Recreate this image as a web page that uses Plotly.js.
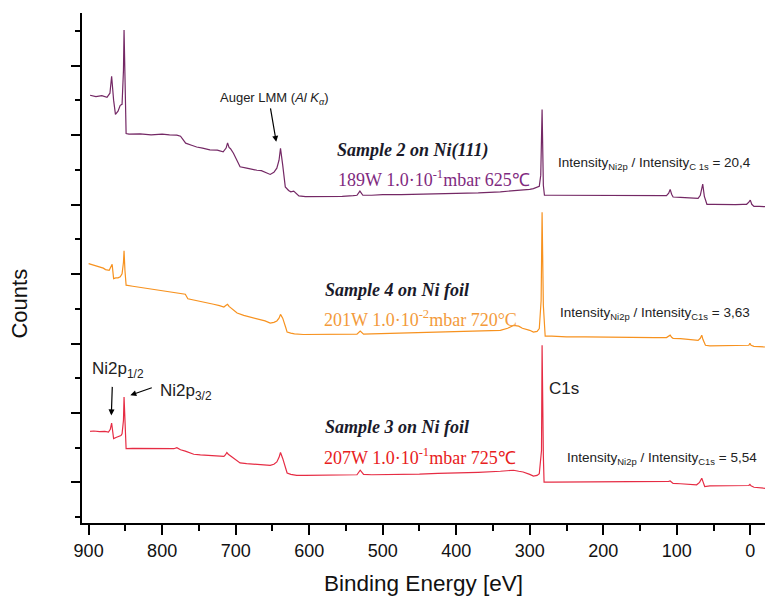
<!DOCTYPE html>
<html>
<head>
<meta charset="utf-8">
<script src="https://cdn.plot.ly/plotly-3.0.1.min.js"></script>
<style>html,body{margin:0;padding:0;background:#fff;}#chart{width:765px;height:601px;}</style>
</head>
<body>
<div id="chart"></div>
<script>
// Binding energy (eV) and counts (arbitrary units, offset per spectrum)
const evSample2 = [898, 890, 882, 875, 871, 868.7, 866, 863.5, 860, 857, 854.5, 852.6, 851.8, 850.6, 849, 845, 830, 815, 800, 790, 780, 775, 770, 768, 760, 753, 745, 735, 725, 717, 713, 711, 709, 707, 703, 698, 694, 685, 678, 671, 665, 660, 653, 648, 644, 641, 639, 636, 632.5, 628, 625, 621, 617, 614, 605, 595, 585, 570, 555, 540, 535, 531, 527, 515, 500, 475, 450, 425, 400, 370, 340, 320, 310, 300, 295, 290, 287, 285, 283.2, 281.5, 280, 270, 250, 225, 200, 175, 150, 130, 114, 111, 109, 107, 105, 95, 85, 75, 71, 68, 66.5, 64.7, 62.5, 61, 59, 50, 40, 30, 20, 10, 5, 2, 0, -2, -5, -12, -20];
const cSample2 = [11.15, 11.11, 11.14, 11.09, 11.21, 11.70, 11.01, 10.60, 10.69, 10.86, 10.89, 11.87, 13.03, 11.30, 10.05, 10.03, 10.04, 10.01, 10.03, 10.01, 10.00, 9.97, 9.83, 9.77, 9.71, 9.66, 9.63, 9.58, 9.57, 9.52, 9.63, 9.78, 9.65, 9.61, 9.48, 9.25, 9.09, 9.05, 9.01, 8.99, 8.98, 8.93, 8.87, 8.93, 9.05, 9.28, 9.62, 9.14, 8.51, 8.41, 8.37, 8.39, 8.30, 8.25, 8.23, 8.23, 8.22, 8.24, 8.24, 8.26, 8.27, 8.39, 8.27, 8.27, 8.29, 8.29, 8.30, 8.31, 8.33, 8.34, 8.37, 8.40, 8.43, 8.44, 8.46, 8.49, 8.53, 8.85, 10.74, 8.56, 8.27, 8.27, 8.27, 8.27, 8.26, 8.27, 8.26, 8.26, 8.26, 8.33, 8.44, 8.30, 8.22, 8.21, 8.20, 8.19, 8.18, 8.27, 8.41, 8.59, 8.24, 8.10, 8.01, 8.01, 8.00, 8.01, 8.00, 8.01, 8.01, 8.07, 8.13, 8.01, 7.95, 7.95, 7.94];

const evSample4 = [900, 895, 890, 885, 880, 877, 872, 868, 866, 863, 860, 857, 854.5, 852.6, 851.8, 850.6, 849, 840, 830, 820, 810, 800, 790, 780, 772, 768.5, 765, 758, 750, 740, 730, 722, 716, 713, 711, 709, 707, 703, 698, 689, 680, 670, 660, 653, 648, 644, 641, 639, 636, 632, 630, 625, 620, 608, 595, 580, 565, 550, 535, 530.6, 526, 515, 500, 475, 450, 425, 400, 370, 340, 330, 322, 315, 310, 300, 295, 290, 287, 284.5, 283.2, 281.5, 279, 270, 250, 225, 200, 175, 150, 130, 114, 111, 109, 107, 105, 95, 85, 75, 71, 68, 66, 64.5, 62.5, 61, 55, 40, 25, 10, 2, 0.5, -1, -5, -12, -20];
const cSample4 = [6.30, 6.27, 6.24, 6.20, 6.17, 6.13, 6.11, 6.28, 5.87, 5.89, 5.89, 5.92, 6.01, 6.34, 6.67, 6.11, 5.68, 5.65, 5.62, 5.59, 5.56, 5.53, 5.50, 5.46, 5.45, 5.42, 5.29, 5.26, 5.23, 5.19, 5.13, 5.09, 5.05, 5.10, 5.13, 5.07, 5.04, 4.96, 4.88, 4.81, 4.76, 4.71, 4.65, 4.59, 4.61, 4.65, 4.73, 4.84, 4.73, 4.47, 4.33, 4.30, 4.28, 4.26, 4.26, 4.27, 4.27, 4.28, 4.27, 4.36, 4.27, 4.28, 4.29, 4.30, 4.32, 4.34, 4.35, 4.37, 4.38, 4.44, 4.52, 4.50, 4.44, 4.38, 4.33, 4.35, 4.43, 5.24, 7.78, 5.10, 4.21, 4.21, 4.19, 4.19, 4.18, 4.18, 4.18, 4.17, 4.17, 4.21, 4.24, 4.18, 4.15, 4.14, 4.12, 4.10, 4.09, 4.15, 4.24, 4.12, 3.98, 3.95, 3.93, 3.93, 3.93, 3.93, 3.95, 4.01, 3.95, 3.92, 3.91, 3.90];

const evSample3 = [898, 893, 885, 878, 873, 870.5, 868.7, 867, 866, 862, 858, 856, 854.5, 852.6, 851.8, 850.6, 849, 840, 830, 815, 800, 790, 784, 780, 775, 768.5, 763, 757, 748, 740, 730, 722, 716, 714, 712, 710, 708, 703, 698, 694, 685, 678, 670, 660, 653, 648, 644, 641, 639, 636, 632, 630, 625, 617, 605, 590, 575, 560, 545, 535, 530.6, 526, 515, 503, 475, 450, 425, 400, 370, 340, 330, 322, 315, 309, 300, 295, 290, 287, 284, 283.2, 281.5, 280.5, 270, 250, 225, 200, 175, 150, 130, 114, 111, 109, 107, 105, 95, 85, 75, 73, 69, 66, 64, 62, 55, 40, 25, 10, 2, 0.5, -1, -5, -12, -20];
const cSample3 = [1.47, 1.48, 1.46, 1.47, 1.45, 1.53, 1.71, 1.50, 1.26, 1.30, 1.33, 1.35, 1.40, 1.79, 2.46, 1.64, 0.97, 0.98, 0.98, 0.97, 0.98, 0.97, 0.97, 1.00, 0.94, 0.90, 0.85, 0.81, 0.79, 0.78, 0.77, 0.76, 0.75, 0.79, 0.86, 0.81, 0.78, 0.68, 0.62, 0.56, 0.54, 0.53, 0.52, 0.50, 0.49, 0.52, 0.59, 0.72, 0.86, 0.69, 0.43, 0.27, 0.23, 0.20, 0.20, 0.20, 0.21, 0.21, 0.22, 0.22, 0.35, 0.23, 0.22, 0.22, 0.23, 0.24, 0.26, 0.27, 0.29, 0.32, 0.33, 0.35, 0.32, 0.30, 0.23, 0.18, 0.20, 0.25, 0.92, 3.95, 0.78, 0.01, 0.01, 0.01, 0.01, 0.01, 0.01, 0.01, 0.01, 0.01, 0.03, 0.04, -0.01, -0.03, -0.04, -0.06, -0.07, -0.07, 0.00, 0.12, 0.00, -0.12, -0.10, -0.10, -0.10, -0.10, -0.09, -0.06, -0.10, -0.14, -0.16, -0.17];

const seriesNames = ['Sample 2 on Ni(111)', 'Sample 4 on Ni foil', 'Sample 3 on Ni foil'];
const conditions = ['189W 1.0·10<sup>-1</sup>mbar 625℃', '201W 1.0·10<sup>-2</sup>mbar 720°C', '207W 1.0·10<sup>-1</sup>mbar 725℃'];
const ratioLabels = ['Intensity<sub>Ni2p</sub> / Intensity<sub>C 1s</sub> = 20,4', 'Intensity<sub>Ni2p</sub> / Intensity<sub>C1s</sub> = 3,63', 'Intensity<sub>Ni2p</sub> / Intensity<sub>C1s</sub> = 5,54'];
const xTickVals = [900, 800, 700, 600, 500, 400, 300, 200, 100, 0];

const lineColors = ['#742865', '#f7921f', '#e62c44'];
const textColors = ['#7f2a80', '#f39a3a', '#e82020'];
const SERIF = 'Liberation Serif, Times New Roman, serif';
const SANS = 'Liberation Sans, Arial, sans-serif';

const traces = [
  {x: evSample2, y: cSample2, name: seriesNames[0], type: 'scatter', mode: 'lines', line: {color: lineColors[0], width: 1.2}},
  {x: evSample4, y: cSample4, name: seriesNames[1], type: 'scatter', mode: 'lines', line: {color: lineColors[1], width: 1.2}},
  {x: evSample3, y: cSample3, name: seriesNames[2], type: 'scatter', mode: 'lines', line: {color: lineColors[2], width: 1.2}}
];

function label(x, y, text, size, family, color, xanchor) {
  return {x: x, y: y, xref: 'x', yref: 'y', text: text, showarrow: false,
    xanchor: xanchor || 'left', yanchor: 'middle', font: {size: size, family: family, color: color}};
}
function arrow(x, y, ax, ay) {
  return {x: x, y: y, xref: 'x', yref: 'y', text: '', showarrow: true, ax: ax, ay: ay,
    arrowhead: 2, arrowsize: 1, arrowwidth: 1.2, arrowcolor: '#000'};
}

const annotations = [
  label(647.5, 11.07, 'Auger LMM (<i>Al K<sub>α</sub></i>)', 13, SANS, '#222', 'center'),
  arrow(644.8, 9.81, -6, -35),
  label(564.7, 9.57, '<b><i>' + seriesNames[0] + '</i></b>', 18, SERIF, '#1a1a2a'),
  label(563.3, 8.76, conditions[0], 18, SERIF, textColors[0]),
  label(264.1, 9.19, ratioLabels[0], 13.5, SANS, '#222'),
  label(581.3, 5.53, '<b><i>' + seriesNames[1] + '</i></b>', 18, SERIF, '#1a1a2a'),
  label(582.7, 4.72, conditions[1], 18, SERIF, textColors[1]),
  label(261.4, 4.87, ratioLabels[1], 13.5, SANS, '#222'),
  label(580.9, 1.59, '<b><i>' + seriesNames[2] + '</i></b>', 18, SERIF, '#1a1a2a'),
  label(582.2, 0.75, conditions[2], 18, SERIF, textColors[2]),
  label(251.9, 0.69, ratioLabels[2], 13.5, SANS, '#222'),
  label(897.6, 3.23, 'Ni2p<sub>1/2</sub>', 17, SANS, '#222'),
  arrow(869.1, 1.93, 1, -30),
  label(805.2, 2.59, 'Ni2p<sub>3/2</sub>', 17, SANS, '#222'),
  arrow(843.3, 2.51, 23, -8),
  label(276.8, 2.71, 'C1s', 17, SANS, '#222'),
  {x: -0.091, y: 0.43, xref: 'paper', yref: 'paper', text: 'Counts', showarrow: false, textangle: -90,
    xanchor: 'center', yanchor: 'middle', font: {size: 22, family: SANS, color: '#111'}}
];

const layout = {
  width: 765, height: 601,
  margin: {l: 82, r: 0, t: 13, b: 78},
  paper_bgcolor: '#fff', plot_bgcolor: '#fff',
  showlegend: false,
  xaxis: {
    range: [909, -20], tickvals: xTickVals, ticks: 'outside', ticklen: 10, tickwidth: 2, tickcolor: '#000',
    minor: {dtick: 50, tick0: 0, ticks: 'outside', ticklen: 6, tickwidth: 2, tickcolor: '#000'},
    showline: true, linecolor: '#000', linewidth: 2, showgrid: false, zeroline: false,
    tickfont: {size: 18, family: SANS, color: '#111'},
    title: {text: 'Binding Energy [eV]', font: {size: 22.5, family: SANS, color: '#111'}, standoff: 16},
    automargin: false
  },
  xaxis2: {
    overlaying: 'x', matches: 'x', side: 'top', anchor: 'y', tickvals: xTickVals, ticks: 'inside', ticklen: 12, tickwidth: 2, tickcolor: '#000',
    minor: {dtick: 50, tick0: 0, ticks: 'inside', ticklen: 7, tickwidth: 2, tickcolor: '#000'},
    showline: true, linecolor: '#000', linewidth: 2, showgrid: false, zeroline: false, showticklabels: false
  },
  yaxis: {
    range: [-1.17, 13.52], dtick: 2, tick0: 0, ticks: 'outside', ticklen: 9, tickwidth: 2, tickcolor: '#000',
    minor: {dtick: 1, tick0: 0, ticks: 'outside', ticklen: 5, tickwidth: 2, tickcolor: '#000'},
    showline: true, linecolor: '#000', linewidth: 2, showgrid: false, zeroline: false, showticklabels: false,
    automargin: false
  },
  annotations: annotations
};

Plotly.newPlot('chart', traces, layout, {displayModeBar: false, staticPlot: true});
</script>
</body>
</html>
